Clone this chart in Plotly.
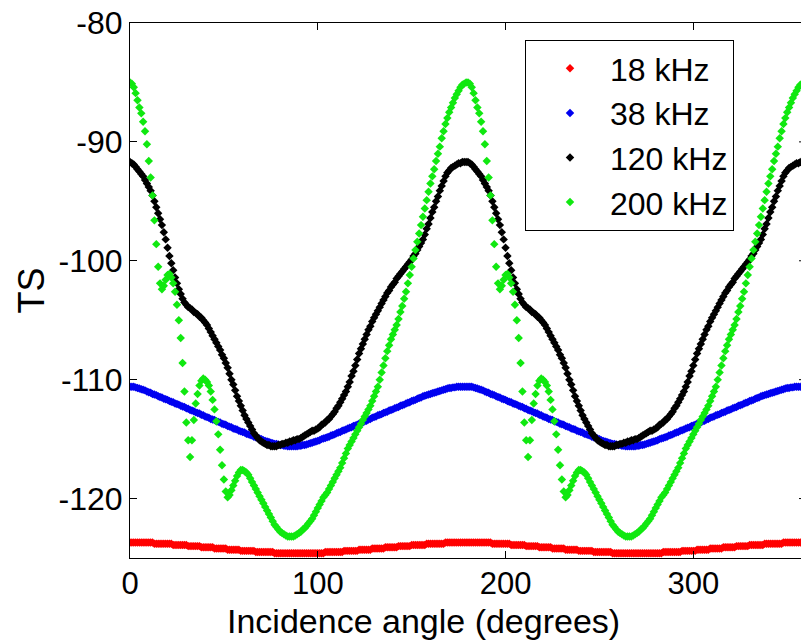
import plotly.graph_objects as go

# Incidence angle sampling (degrees)
angle = list(range(0, 361))

ts_18khz = [
    -123.7, -123.7, -123.7, -123.7, -123.7, -123.7, -123.7, -123.7, -123.7, -123.7,
    -123.7, -123.7, -123.7, -123.8, -123.8, -123.8, -123.8, -123.8, -123.8, -123.8,
    -123.8, -123.8, -123.8, -123.9, -123.9, -123.9, -123.9, -123.9, -123.9, -123.9,
    -123.9, -124.0, -124.0, -124.0, -124.0, -124.0, -124.0, -124.0, -124.1, -124.1,
    -124.1, -124.1, -124.1, -124.1, -124.1, -124.2, -124.2, -124.2, -124.2, -124.2,
    -124.2, -124.2, -124.3, -124.3, -124.3, -124.3, -124.3, -124.3, -124.3, -124.4,
    -124.4, -124.4, -124.4, -124.4, -124.4, -124.4, -124.4, -124.5, -124.5, -124.5,
    -124.5, -124.5, -124.5, -124.5, -124.5, -124.5, -124.5, -124.6, -124.6, -124.6,
    -124.6, -124.6, -124.6, -124.6, -124.6, -124.6, -124.6, -124.6, -124.6, -124.6,
    -124.6, -124.6, -124.6, -124.6, -124.6, -124.6, -124.6, -124.6, -124.6, -124.6,
    -124.6, -124.6, -124.6, -124.6, -124.5, -124.5, -124.5, -124.5, -124.5, -124.5,
    -124.5, -124.5, -124.5, -124.5, -124.4, -124.4, -124.4, -124.4, -124.4, -124.4,
    -124.4, -124.4, -124.3, -124.3, -124.3, -124.3, -124.3, -124.3, -124.3, -124.2,
    -124.2, -124.2, -124.2, -124.2, -124.2, -124.2, -124.1, -124.1, -124.1, -124.1,
    -124.1, -124.1, -124.1, -124.0, -124.0, -124.0, -124.0, -124.0, -124.0, -124.0,
    -123.9, -123.9, -123.9, -123.9, -123.9, -123.9, -123.9, -123.9, -123.8, -123.8,
    -123.8, -123.8, -123.8, -123.8, -123.8, -123.8, -123.8, -123.8, -123.7, -123.7,
    -123.7, -123.7, -123.7, -123.7, -123.7, -123.7, -123.7, -123.7, -123.7, -123.7,
    -123.7,
    -123.7, -123.7, -123.7, -123.7, -123.7, -123.7, -123.7, -123.7, -123.7,
    -123.7, -123.7, -123.7, -123.8, -123.8, -123.8, -123.8, -123.8, -123.8, -123.8,
    -123.8, -123.8, -123.8, -123.9, -123.9, -123.9, -123.9, -123.9, -123.9, -123.9,
    -123.9, -124.0, -124.0, -124.0, -124.0, -124.0, -124.0, -124.0, -124.1, -124.1,
    -124.1, -124.1, -124.1, -124.1, -124.1, -124.2, -124.2, -124.2, -124.2, -124.2,
    -124.2, -124.2, -124.3, -124.3, -124.3, -124.3, -124.3, -124.3, -124.3, -124.4,
    -124.4, -124.4, -124.4, -124.4, -124.4, -124.4, -124.4, -124.5, -124.5, -124.5,
    -124.5, -124.5, -124.5, -124.5, -124.5, -124.5, -124.5, -124.6, -124.6, -124.6,
    -124.6, -124.6, -124.6, -124.6, -124.6, -124.6, -124.6, -124.6, -124.6, -124.6,
    -124.6, -124.6, -124.6, -124.6, -124.6, -124.6, -124.6, -124.6, -124.6, -124.6,
    -124.6, -124.6, -124.6, -124.6, -124.5, -124.5, -124.5, -124.5, -124.5, -124.5,
    -124.5, -124.5, -124.5, -124.5, -124.4, -124.4, -124.4, -124.4, -124.4, -124.4,
    -124.4, -124.4, -124.3, -124.3, -124.3, -124.3, -124.3, -124.3, -124.3, -124.2,
    -124.2, -124.2, -124.2, -124.2, -124.2, -124.2, -124.1, -124.1, -124.1, -124.1,
    -124.1, -124.1, -124.1, -124.0, -124.0, -124.0, -124.0, -124.0, -124.0, -124.0,
    -123.9, -123.9, -123.9, -123.9, -123.9, -123.9, -123.9, -123.9, -123.8, -123.8,
    -123.8, -123.8, -123.8, -123.8, -123.8, -123.8, -123.8, -123.8, -123.7, -123.7,
    -123.7, -123.7, -123.7, -123.7, -123.7, -123.7, -123.7, -123.7, -123.7, -123.7,
    -123.7,
]

ts_38khz = [
    -110.6, -110.6, -110.6, -110.65, -110.7, -110.75, -110.8, -110.85, -110.9, -111.0,
    -111.05, -111.1, -111.2, -111.25, -111.3, -111.4, -111.45, -111.5, -111.6, -111.65,
    -111.7, -111.8, -111.85, -111.9, -112.0, -112.05, -112.1, -112.2, -112.25, -112.3,
    -112.4, -112.45, -112.55, -112.6, -112.65, -112.75, -112.8, -112.85, -112.95, -113.0,
    -113.1, -113.15, -113.2, -113.3, -113.35, -113.4, -113.5, -113.55, -113.6, -113.7,
    -113.75, -113.8, -113.9, -113.95, -114.0, -114.1, -114.15, -114.2, -114.3, -114.35,
    -114.4, -114.45, -114.55, -114.6, -114.65, -114.7, -114.8, -114.85, -114.9, -114.95,
    -115.0, -115.1, -115.15, -115.2, -115.25, -115.3, -115.35, -115.4, -115.4, -115.45,
    -115.5, -115.5, -115.55, -115.55, -115.6, -115.6, -115.6, -115.6, -115.6, -115.6,
    -115.55, -115.55, -115.5, -115.5, -115.45, -115.4, -115.35, -115.3, -115.25, -115.2,
    -115.15, -115.1, -115.0, -114.95, -114.9, -114.85, -114.8, -114.7, -114.65, -114.6,
    -114.5, -114.45, -114.4, -114.3, -114.25, -114.2, -114.1, -114.05, -114.0, -113.9,
    -113.85, -113.8, -113.7, -113.65, -113.6, -113.5, -113.45, -113.35, -113.3, -113.2,
    -113.15, -113.1, -113.0, -112.95, -112.9, -112.8, -112.75, -112.7, -112.6, -112.55,
    -112.5, -112.4, -112.35, -112.3, -112.2, -112.15, -112.1, -112.0, -111.95, -111.9,
    -111.8, -111.75, -111.7, -111.6, -111.55, -111.5, -111.4, -111.35, -111.3, -111.25,
    -111.2, -111.15, -111.1, -111.05, -111.0, -110.95, -110.9, -110.85, -110.8, -110.75,
    -110.7, -110.7, -110.65, -110.65, -110.6, -110.6, -110.6, -110.6, -110.6, -110.6,
    -110.6,
    -110.6, -110.6, -110.65, -110.7, -110.75, -110.8, -110.85, -110.9, -111.0,
    -111.05, -111.1, -111.2, -111.25, -111.3, -111.4, -111.45, -111.5, -111.6, -111.65,
    -111.7, -111.8, -111.85, -111.9, -112.0, -112.05, -112.1, -112.2, -112.25, -112.3,
    -112.4, -112.45, -112.55, -112.6, -112.65, -112.75, -112.8, -112.85, -112.95, -113.0,
    -113.1, -113.15, -113.2, -113.3, -113.35, -113.4, -113.5, -113.55, -113.6, -113.7,
    -113.75, -113.8, -113.9, -113.95, -114.0, -114.1, -114.15, -114.2, -114.3, -114.35,
    -114.4, -114.45, -114.55, -114.6, -114.65, -114.7, -114.8, -114.85, -114.9, -114.95,
    -115.0, -115.1, -115.15, -115.2, -115.25, -115.3, -115.35, -115.4, -115.4, -115.45,
    -115.5, -115.5, -115.55, -115.55, -115.6, -115.6, -115.6, -115.6, -115.6, -115.6,
    -115.55, -115.55, -115.5, -115.5, -115.45, -115.4, -115.35, -115.3, -115.25, -115.2,
    -115.15, -115.1, -115.0, -114.95, -114.9, -114.85, -114.8, -114.7, -114.65, -114.6,
    -114.5, -114.45, -114.4, -114.3, -114.25, -114.2, -114.1, -114.05, -114.0, -113.9,
    -113.85, -113.8, -113.7, -113.65, -113.6, -113.5, -113.45, -113.35, -113.3, -113.2,
    -113.15, -113.1, -113.0, -112.95, -112.9, -112.8, -112.75, -112.7, -112.6, -112.55,
    -112.5, -112.4, -112.35, -112.3, -112.2, -112.15, -112.1, -112.0, -111.95, -111.9,
    -111.8, -111.75, -111.7, -111.6, -111.55, -111.5, -111.4, -111.35, -111.3, -111.25,
    -111.2, -111.15, -111.1, -111.05, -111.0, -110.95, -110.9, -110.85, -110.8, -110.75,
    -110.7, -110.7, -110.65, -110.65, -110.6, -110.6, -110.6, -110.6, -110.6, -110.6,
    -110.6,
]

ts_120khz = [
    -91.7, -91.8, -91.9, -92.1, -92.3, -92.5, -92.7, -92.9, -93.2, -93.5,
    -93.8, -94.1, -94.5, -95.0, -95.5, -96.0, -96.5, -97.0, -97.6, -98.2,
    -98.9, -99.6, -100.2, -100.8, -101.4, -101.9, -102.4, -102.8, -103.2, -103.5,
    -103.7, -103.9, -104.0, -104.1, -104.3, -104.4, -104.5, -104.7, -104.8, -105.0,
    -105.2, -105.4, -105.7, -106.0, -106.3, -106.6, -106.9, -107.2, -107.5, -107.9,
    -108.2, -108.6, -109.0, -109.5, -110.0, -110.4, -110.9, -111.4, -111.8, -112.2,
    -112.6, -113.0, -113.3, -113.6, -113.9, -114.2, -114.5, -114.7, -114.9, -115.1,
    -115.2, -115.3, -115.4, -115.5, -115.5, -115.6, -115.6, -115.6, -115.6, -115.5,
    -115.5, -115.4, -115.4, -115.3, -115.3, -115.2, -115.2, -115.1, -115.1, -115.0,
    -115.0, -114.9, -114.8, -114.7, -114.6, -114.5, -114.4, -114.3, -114.3, -114.2,
    -114.1, -114.0, -113.8, -113.7, -113.6, -113.4, -113.3, -113.1, -112.9, -112.7,
    -112.4, -112.2, -111.9, -111.6, -111.3, -111.0, -110.6, -110.2, -109.7, -109.3,
    -108.8, -108.3, -107.8, -107.4, -107.0, -106.6, -106.2, -105.8, -105.5, -105.1,
    -104.8, -104.5, -104.2, -103.9, -103.6, -103.3, -103.0, -102.7, -102.5, -102.2,
    -102.0, -101.8, -101.5, -101.3, -101.1, -100.9, -100.7, -100.5, -100.3, -100.1,
    -99.9, -99.6, -99.4, -99.1, -98.8, -98.5, -98.2, -97.8, -97.3, -96.9,
    -96.4, -95.9, -95.5, -95.0, -94.6, -94.1, -93.7, -93.3, -92.9, -92.6,
    -92.4, -92.2, -92.1, -92.0, -91.9, -91.8, -91.8, -91.7, -91.7, -91.7,
    -91.7,
    -91.8, -91.9, -92.1, -92.3, -92.5, -92.7, -92.9, -93.2, -93.5,
    -93.8, -94.1, -94.5, -95.0, -95.5, -96.0, -96.5, -97.0, -97.6, -98.2,
    -98.9, -99.6, -100.2, -100.8, -101.4, -101.9, -102.4, -102.8, -103.2, -103.5,
    -103.7, -103.9, -104.0, -104.1, -104.3, -104.4, -104.5, -104.7, -104.8, -105.0,
    -105.2, -105.4, -105.7, -106.0, -106.3, -106.6, -106.9, -107.2, -107.5, -107.9,
    -108.2, -108.6, -109.0, -109.5, -110.0, -110.4, -110.9, -111.4, -111.8, -112.2,
    -112.6, -113.0, -113.3, -113.6, -113.9, -114.2, -114.5, -114.7, -114.9, -115.1,
    -115.2, -115.3, -115.4, -115.5, -115.5, -115.6, -115.6, -115.6, -115.6, -115.5,
    -115.5, -115.4, -115.4, -115.3, -115.3, -115.2, -115.2, -115.1, -115.1, -115.0,
    -115.0, -114.9, -114.8, -114.7, -114.6, -114.5, -114.4, -114.3, -114.3, -114.2,
    -114.1, -114.0, -113.8, -113.7, -113.6, -113.4, -113.3, -113.1, -112.9, -112.7,
    -112.4, -112.2, -111.9, -111.6, -111.3, -111.0, -110.6, -110.2, -109.7, -109.3,
    -108.8, -108.3, -107.8, -107.4, -107.0, -106.6, -106.2, -105.8, -105.5, -105.1,
    -104.8, -104.5, -104.2, -103.9, -103.6, -103.3, -103.0, -102.7, -102.5, -102.2,
    -102.0, -101.8, -101.5, -101.3, -101.1, -100.9, -100.7, -100.5, -100.3, -100.1,
    -99.9, -99.6, -99.4, -99.1, -98.8, -98.5, -98.2, -97.8, -97.3, -96.9,
    -96.4, -95.9, -95.5, -95.0, -94.6, -94.1, -93.7, -93.3, -92.9, -92.6,
    -92.4, -92.2, -92.1, -92.0, -91.9, -91.8, -91.8, -91.7, -91.7, -91.7,
    -91.7,
]

ts_200khz = [
    -85.0, -85.1, -85.4, -85.9, -86.5, -87.1, -87.6, -88.3, -89.1, -90.2,
    -91.6, -93.0, -94.5, -96.6, -98.6, -100.5, -101.9, -102.4, -102.1, -101.6,
    -101.2, -101.1, -101.4, -101.9, -102.6, -103.7, -105.0, -106.5, -108.6, -111.0,
    -113.6, -115.1, -116.5, -115.1, -113.4, -112.0, -111.2, -110.5, -110.1, -109.9,
    -110.0, -110.2, -110.5, -111.0, -111.7, -112.5, -113.5, -114.6, -115.9, -117.2,
    -118.4, -119.4, -119.9, -119.7, -119.3, -118.9, -118.5, -118.1, -117.8, -117.6,
    -117.6, -117.7, -117.8, -118.0, -118.3, -118.6, -118.9, -119.2, -119.5, -119.8,
    -120.1, -120.4, -120.7, -121.0, -121.3, -121.6, -121.9, -122.2, -122.4, -122.6,
    -122.8, -122.9, -123.0, -123.1, -123.2, -123.2, -123.2, -123.2, -123.1, -123.0,
    -122.9, -122.8, -122.6, -122.5, -122.3, -122.1, -121.9, -121.7, -121.4, -121.1,
    -120.8, -120.5, -120.2, -119.9, -119.7, -119.5, -119.2, -118.9, -118.6, -118.3,
    -118.0, -117.7, -117.4, -117.0, -116.6, -116.2, -115.8, -115.5, -115.2, -114.9,
    -114.6, -114.3, -114.0, -113.7, -113.4, -113.1, -112.8, -112.5, -112.2, -111.8,
    -111.4, -111.0, -110.6, -110.0, -109.4, -108.8, -108.2, -107.6, -107.1, -106.6,
    -106.2, -105.8, -105.4, -104.9, -104.3, -103.8, -103.2, -102.6, -101.9, -101.2,
    -100.5, -99.8, -99.1, -98.4, -97.7, -97.0, -96.3, -95.6, -94.9, -94.2,
    -93.5, -92.9, -92.3, -91.6, -91.0, -90.4, -89.7, -89.1, -88.5, -88.0,
    -87.5, -87.1, -86.7, -86.3, -86.0, -85.7, -85.4, -85.2, -85.1, -85.0,
    -85.0,
    -85.1, -85.4, -85.9, -86.5, -87.1, -87.6, -88.3, -89.1, -90.2,
    -91.6, -93.0, -94.5, -96.6, -98.6, -100.5, -101.9, -102.4, -102.1, -101.6,
    -101.2, -101.1, -101.4, -101.9, -102.6, -103.7, -105.0, -106.5, -108.6, -111.0,
    -113.6, -115.1, -116.5, -115.1, -113.4, -112.0, -111.2, -110.5, -110.1, -109.9,
    -110.0, -110.2, -110.5, -111.0, -111.7, -112.5, -113.5, -114.6, -115.9, -117.2,
    -118.4, -119.4, -119.9, -119.7, -119.3, -118.9, -118.5, -118.1, -117.8, -117.6,
    -117.6, -117.7, -117.8, -118.0, -118.3, -118.6, -118.9, -119.2, -119.5, -119.8,
    -120.1, -120.4, -120.7, -121.0, -121.3, -121.6, -121.9, -122.2, -122.4, -122.6,
    -122.8, -122.9, -123.0, -123.1, -123.2, -123.2, -123.2, -123.2, -123.1, -123.0,
    -122.9, -122.8, -122.6, -122.5, -122.3, -122.1, -121.9, -121.7, -121.4, -121.1,
    -120.8, -120.5, -120.2, -119.9, -119.7, -119.5, -119.2, -118.9, -118.6, -118.3,
    -118.0, -117.7, -117.4, -117.0, -116.6, -116.2, -115.8, -115.5, -115.2, -114.9,
    -114.6, -114.3, -114.0, -113.7, -113.4, -113.1, -112.8, -112.5, -112.2, -111.8,
    -111.4, -111.0, -110.6, -110.0, -109.4, -108.8, -108.2, -107.6, -107.1, -106.6,
    -106.2, -105.8, -105.4, -104.9, -104.3, -103.8, -103.2, -102.6, -101.9, -101.2,
    -100.5, -99.8, -99.1, -98.4, -97.7, -97.0, -96.3, -95.6, -94.9, -94.2,
    -93.5, -92.9, -92.3, -91.6, -91.0, -90.4, -89.7, -89.1, -88.5, -88.0,
    -87.5, -87.1, -86.7, -86.3, -86.0, -85.7, -85.4, -85.2, -85.1, -85.0,
    -85.0,
]

series_names = ["18 kHz", "38 kHz", "120 kHz", "200 kHz"]
series_colors = ["#ff0000", "#0000f0", "#000000", "#10e810"]
series_values = [ts_18khz, ts_38khz, ts_120khz, ts_200khz]

x_tickvals = [0, 100, 200, 300]
x_ticktext = ["0", "100", "200", "300"]
y_tickvals = [-120, -110, -100, -90, -80]
y_ticktext = ["-120", "-110", "-100", "-90", "-80"]

FONT = "Liberation Sans, Arial, sans-serif"
X_MAX = 357.35

fig = go.Figure()
for name, color, vals in zip(series_names, series_colors, series_values):
    fig.add_trace(go.Scatter(
        x=angle, y=vals, mode="markers", name=name,
        marker=dict(symbol="diamond", size=6.5, color=color, line=dict(width=0)),
    ))

shapes = []
for v in [-120, -110, -100, -90]:
    shapes.append(dict(type="line", xref="x", yref="y", x0=356.3, x1=X_MAX, y0=v, y1=v,
                       line=dict(color="black", width=1)))

fig.update_layout(
    width=801, height=640,
    margin=dict(l=130, r=0, t=23, b=82),
    paper_bgcolor="white", plot_bgcolor="white",
    font=dict(family=FONT, size=32, color="black"),
    showlegend=True,
    legend=dict(
        x=(525 - 130) / 671, y=(558 - 40) / 535, xanchor="left", yanchor="top",
        bordercolor="black", borderwidth=1, bgcolor="white",
        font=dict(family=FONT, size=32, color="black"),
        itemwidth=70, indentation=4,
    ),
    xaxis=dict(
        range=[0, X_MAX], showgrid=False, zeroline=False,
        showline=True, linecolor="black", linewidth=1, mirror="ticks",
        ticks="inside", ticklen=7, tickcolor="black",
        tickmode="array", tickvals=x_tickvals, ticktext=x_ticktext,
        tickfont=dict(family=FONT, size=31, color="black"),
        ticklabelstandoff=-2,
    ),
    yaxis=dict(
        range=[-125, -80], showgrid=False, zeroline=False,
        showline=True, linecolor="black", linewidth=1, mirror=False,
        ticks="inside", ticklen=7, tickcolor="black",
        tickmode="array", tickvals=y_tickvals, ticktext=y_ticktext,
        tickfont=dict(family=FONT, size=32, color="black"),
    ),
    shapes=shapes,
    annotations=[
        dict(text="Incidence angle (degrees)", xref="paper", yref="paper",
             x=(423 - 130) / 671, y=(558 - 620.5) / 535, xanchor="center", yanchor="middle",
             showarrow=False, font=dict(family=FONT, size=34, color="black")),
        dict(text="TS", xref="paper", yref="paper",
             x=(31 - 130) / 671, y=0.5, xanchor="center", yanchor="middle", textangle=-90,
             showarrow=False, font=dict(family=FONT, size=36, color="black")),
    ],
)

fig.write_html("out.html")
